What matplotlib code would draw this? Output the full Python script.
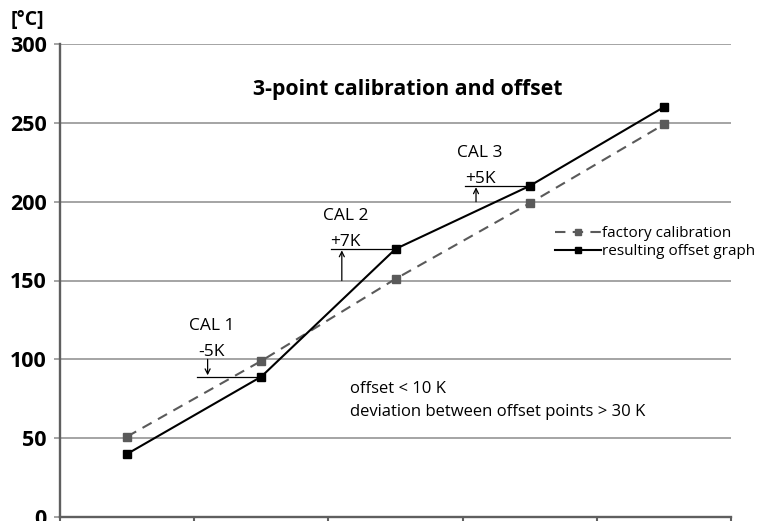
import numpy as np
import matplotlib.pyplot as plt

plt.rcParams['font.family'] = ['Open Sans', 'DejaVu Sans']

# Data
categories = ['1', '2', '3', '4', '5']
factory = [51, 99, 151, 199, 249]
offset_graph = [40, 89, 170, 210, 260]
cal_index = [1, 2, 3]
cal_names = ['CAL 1', 'CAL 2', 'CAL 3']
cal_labels = ['-5K', '+7K', '+5K']
cal_base = [100, 150, 200]
yticks = [0, 50, 100, 150, 200, 250, 300]

x = np.arange(len(categories)) + 0.5

fig = plt.figure(figsize=(7.63, 5.21), dpi=100)
ax = fig.add_axes([60 / 763, 4 / 521, 671 / 763, 473 / 521])

ax.set_xlim(0, len(categories))
ax.set_ylim(0, 300)

# grid + axes
ax.set_yticks(yticks)
ax.yaxis.grid(True, color='#8c8c8c', lw=1.1)
ax.set_axisbelow(True)
ax.set_xticks(np.arange(len(categories) + 1))
ax.set_xticklabels([])
for s in ['top', 'right']:
    ax.spines[s].set_visible(False)
for s in ['left', 'bottom']:
    ax.spines[s].set_color('#5f5f5f')
    ax.spines[s].set_linewidth(1.7)
ax.tick_params(axis='y', direction='out', length=4.5, width=1.1, color='#8c8c8c',
               pad=5, labelsize=15.5)
ax.tick_params(axis='x', direction='out', length=4, width=1.5, color='#5f5f5f')
for lab in ax.get_yticklabels():
    lab.set_fontweight('bold')

# series
ax.plot(x, factory, color='#5a5a5a', lw=1.5, ls=(0, (5, 3.5)), marker='s', ms=5.5,
        label='factory calibration', zorder=3)
ax.plot(x, offset_graph, color='black', lw=1.5, marker='s', ms=5.5,
        label='resulting offset graph', zorder=4)

# calibration annotations
for i, name, lab, base in zip(cal_index, cal_names, cal_labels, cal_base):
    yv = offset_graph[i]
    ax.plot([i + 0.02, x[i]], [yv, yv], color='black', lw=0.9, zorder=2)
    ax.annotate('', xy=(i + 0.1, yv), xytext=(i + 0.1, base),
                arrowprops=dict(arrowstyle='->', color='black', lw=0.9,
                                shrinkA=0, shrinkB=1, mutation_scale=9))
    top = max(base, yv)
    ax.text(i + 0.13, top + 4.5, lab, ha='center', va='center', fontsize=12.5)
    ax.text(i + 0.13, top + 21, name, ha='center', va='center', fontsize=12.5)

ax.text(2.59, 271, '3-point calibration and offset', ha='center', va='center',
        fontsize=15.3, fontweight='bold')
ax.text(2.16, 81, 'offset < 10 K', ha='left', va='center', fontsize=12)
ax.text(2.16, 66.5, 'deviation between offset points > 30 K', ha='left', va='center',
        fontsize=12)

ax.legend(loc='center left', bbox_to_anchor=(0.7377, 0.58), frameon=False,
          fontsize=11, handlelength=3.0, handletextpad=0.1, labelspacing=0.2,
          borderpad=0, borderaxespad=0, markerscale=0.8)

fig.text(27.5 / 763, 1 - 20 / 521, '[°C]', ha='center', va='center', fontsize=14,
         fontweight='bold')

fig.savefig('out.png', dpi=100)
